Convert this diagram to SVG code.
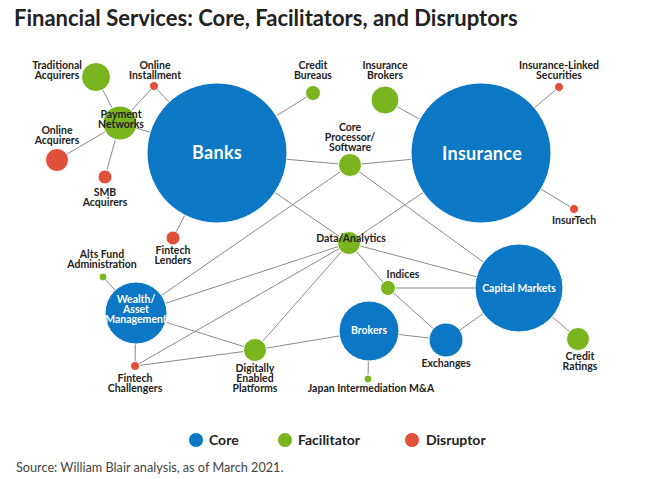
<svg xmlns="http://www.w3.org/2000/svg" width="645" height="479" viewBox="0 0 645 479">
<style>
.core{fill:#0b77c5;stroke:#fff;stroke-width:1}
.fac{fill:#7ab41e;stroke:#fff;stroke-width:1}
.dis{fill:#e0503a;stroke:#fff;stroke-width:1}
.lbl{font-family:Lato,"Liberation Sans",sans-serif;font-weight:700;font-size:10.5px;fill:#222;text-anchor:middle}
.wl{font-family:Lato,"Liberation Sans",sans-serif;font-weight:700;font-size:10.5px;fill:#fff;text-anchor:middle}
.big{font-family:Lato,"Liberation Sans",sans-serif;font-weight:700;font-size:18px;fill:#fff;text-anchor:middle;letter-spacing:0.3px}
.leg{font-family:Lato,"Liberation Sans",sans-serif;font-weight:700;font-size:14px;fill:#222}
#connectors line{stroke:#8a8a8a;stroke-width:1}
</style>
<rect width="645" height="479" fill="#fff"/>
<text x="14" y="26" font-family="Lato,'Liberation Sans',sans-serif" font-weight="700" font-size="22" fill="#222">Financial Services: Core, Facilitators, and Disruptors</text>
<g id="connectors">
<line x1="96" y1="77" x2="120" y2="123"/>
<line x1="154" y1="86" x2="120" y2="123"/>
<line x1="154" y1="86" x2="217" y2="153"/>
<line x1="120" y1="123" x2="57" y2="160"/>
<line x1="120" y1="123" x2="105" y2="177"/>
<line x1="120" y1="123" x2="217" y2="153"/>
<line x1="217" y1="153" x2="313" y2="93"/>
<line x1="217" y1="153" x2="173" y2="238"/>
<line x1="217" y1="153" x2="350" y2="165"/>
<line x1="350" y1="165" x2="481" y2="153"/>
<line x1="217" y1="153" x2="349" y2="243"/>
<line x1="350" y1="165" x2="136" y2="313"/>
<line x1="350" y1="165" x2="519" y2="288"/>
<line x1="481" y1="153" x2="349" y2="243"/>
<line x1="481" y1="153" x2="385" y2="100"/>
<line x1="481" y1="153" x2="559" y2="87"/>
<line x1="481" y1="153" x2="574" y2="209"/>
<line x1="349" y1="243" x2="519" y2="288"/>
<line x1="349" y1="243" x2="388" y2="288"/>
<line x1="349" y1="243" x2="136" y2="313"/>
<line x1="349" y1="243" x2="135" y2="366"/>
<line x1="349" y1="243" x2="255" y2="350"/>
<line x1="388" y1="288" x2="519" y2="288"/>
<line x1="388" y1="288" x2="446" y2="340"/>
<line x1="369" y1="331" x2="446" y2="340"/>
<line x1="446" y1="340" x2="519" y2="288"/>
<line x1="369" y1="331" x2="255" y2="350"/>
<line x1="369" y1="331" x2="368" y2="379"/>
<line x1="519" y1="288" x2="578" y2="339"/>
<line x1="136" y1="313" x2="103" y2="277"/>
<line x1="136" y1="313" x2="135" y2="366"/>
<line x1="136" y1="313" x2="255" y2="350"/>
<line x1="135" y1="366" x2="255" y2="350"/>
</g>
<g id="banks"><circle class="core" cx="217" cy="153" r="70"/><text class="big" x="217" y="159">Banks</text></g>
<g id="insurance"><circle class="core" cx="481" cy="153" r="70"/><text class="big" x="482" y="160">Insurance</text></g>
<g id="payment-networks"><circle class="fac" cx="120" cy="123" r="17"/><text class="lbl" x="121" y="118">Payment<tspan x="121" dy="10">Networks</tspan></text></g>
<g id="traditional-acquirers"><circle class="fac" cx="96" cy="77" r="14.5"/><text class="lbl" x="57" y="69">Traditional<tspan x="57" dy="10">Acquirers</tspan></text></g>
<g id="online-installment"><circle class="dis" cx="154" cy="86" r="4.5"/><text class="lbl" x="155" y="69">Online<tspan x="155" dy="10">Installment</tspan></text></g>
<g id="online-acquirers"><circle class="dis" cx="57" cy="160" r="11.5"/><text class="lbl" x="57" y="134">Online<tspan x="57" dy="10">Acquirers</tspan></text></g>
<g id="smb-acquirers"><circle class="dis" cx="105" cy="177" r="7"/><text class="lbl" x="105" y="196">SMB<tspan x="105" dy="10">Acquirers</tspan></text></g>
<g id="fintech-lenders"><circle class="dis" cx="173" cy="238" r="7"/><text class="lbl" x="173" y="254">Fintech<tspan x="173" dy="10">Lenders</tspan></text></g>
<g id="credit-bureaus"><circle class="fac" cx="313" cy="93" r="7.5"/><text class="lbl" x="313" y="69">Credit<tspan x="313" dy="10">Bureaus</tspan></text></g>
<g id="insurance-brokers"><circle class="fac" cx="385" cy="100" r="14"/><text class="lbl" x="385" y="69">Insurance<tspan x="385" dy="10">Brokers</tspan></text></g>
<g id="core-processor"><circle class="fac" cx="350" cy="165" r="11.5"/><text class="lbl" x="350" y="131">Core<tspan x="350" dy="10">Processor/</tspan><tspan x="350" dy="10">Software</tspan></text></g>
<g id="insurance-linked-securities"><circle class="dis" cx="559" cy="87" r="4.5"/><text class="lbl" x="559" y="69">Insurance-Linked<tspan x="559" dy="10">Securities</tspan></text></g>
<g id="insurtech"><circle class="dis" cx="574" cy="209" r="4.5"/><text class="lbl" x="574" y="224">InsurTech</text></g>
<g id="data-analytics"><circle class="fac" cx="349" cy="243" r="11.5"/><text class="lbl" x="351" y="242">Data/Analytics</text></g>
<g id="capital-markets"><circle class="core" cx="519" cy="288" r="44"/><text class="wl" x="519" y="292">Capital Markets</text></g>
<g id="indices"><circle class="fac" cx="388" cy="288" r="7.5"/><text class="lbl" x="403" y="278">Indices</text></g>
<g id="brokers"><circle class="core" cx="369" cy="331" r="30"/><text class="wl" x="369" y="334">Brokers</text></g>
<g id="exchanges"><circle class="core" cx="446" cy="340" r="17"/><text class="lbl" x="446" y="367">Exchanges</text></g>
<g id="credit-ratings"><circle class="fac" cx="578" cy="339" r="11.5"/><text class="lbl" x="580" y="360">Credit<tspan x="580" dy="10">Ratings</tspan></text></g>
<g id="japan-intermediation"><circle class="fac" cx="368" cy="379" r="4"/><text class="lbl" x="371" y="392">Japan Intermediation M&amp;A</text></g>
<g id="wealth-asset-management"><circle class="core" cx="136" cy="313" r="31"/><text class="wl" x="136" y="303">Wealth/<tspan x="136" dy="10">Asset</tspan><tspan x="136" dy="10">Management</tspan></text></g>
<g id="alts-fund-administration"><circle class="fac" cx="103" cy="277" r="4"/><text class="lbl" x="102" y="258">Alts Fund<tspan x="102" dy="10">Administration</tspan></text></g>
<g id="fintech-challengers"><circle class="dis" cx="135" cy="366" r="4.5"/><text class="lbl" x="135" y="382">Fintech<tspan x="135" dy="10">Challengers</tspan></text></g>
<g id="digitally-enabled-platforms"><circle class="fac" cx="255" cy="350" r="11.5"/><text class="lbl" x="255" y="372">Digitally<tspan x="255" dy="10">Enabled</tspan><tspan x="255" dy="10">Platforms</tspan></text></g>
<g id="legend">
<circle class="core" cx="196" cy="440" r="7.5"/><text class="leg" x="209" y="445">Core</text>
<circle class="fac" cx="285" cy="440" r="7.5"/><text class="leg" x="298" y="445">Facilitator</text>
<circle class="dis" cx="412" cy="440" r="7.5"/><text class="leg" x="426" y="445">Disruptor</text>
</g>
<text x="16" y="472" font-family="Lato,'Liberation Sans',sans-serif" font-size="12.7" fill="#444">Source: William Blair analysis, as of March 2021.</text>
</svg>
